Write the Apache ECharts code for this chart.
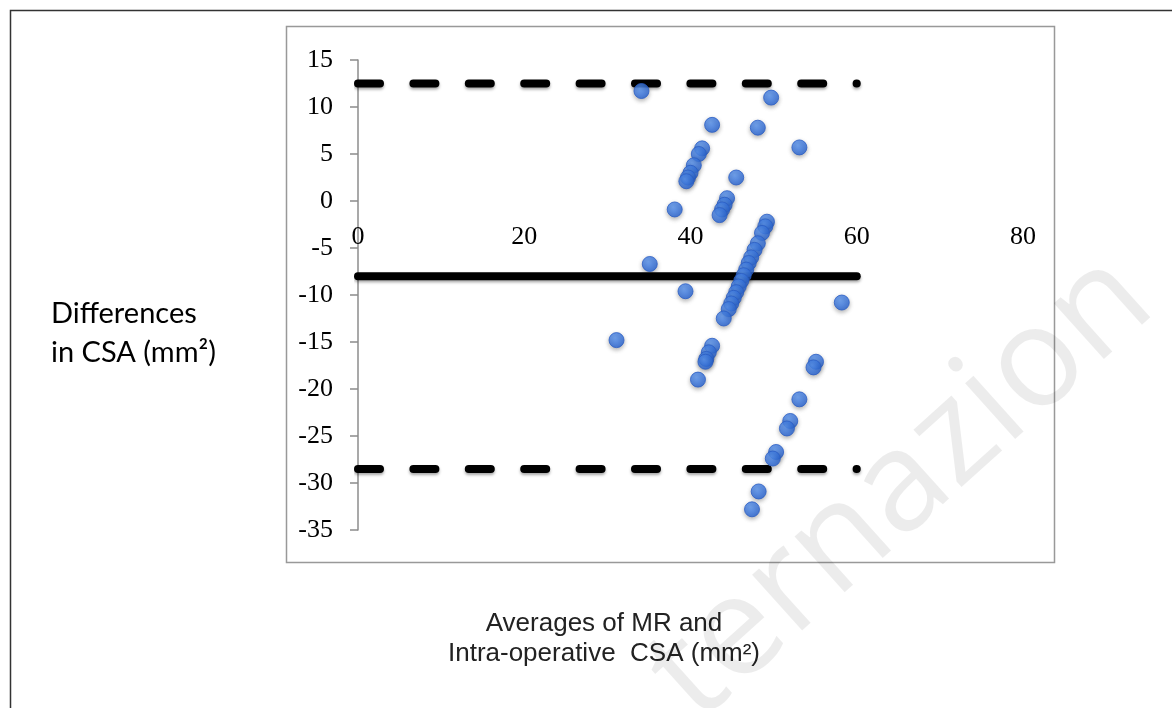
<!DOCTYPE html>
<html>
<head>
<meta charset="utf-8">
<script src="https://cdn.jsdelivr.net/npm/echarts@6/dist/echarts.min.js"></script>
<style>
html,body{margin:0;padding:0;background:#fff;}
#chart{width:1172px;height:708px;}
</style>
</head>
<body>
<div id="chart"></div>
<script>
// Averages (x) of MR and intra-operative CSA
const averages = [34.1,49.7,42.6,48.1,53.1,41.4,41.0,40.4,40.0,39.7,39.5,45.5,44.4,44.1,43.8,43.5,38.1,35.1,
  49.2,49.0,48.6,48.1,47.7,47.3,47.0,46.7,46.4,46.1,45.8,45.5,45.2,44.9,44.6,44.0,39.4,58.2,31.1,42.6,42.2,
  41.9,41.8,40.9,55.1,54.8,53.1,52.0,51.6,50.3,49.9,48.2,47.4];
// Differences (y) in CSA
const differences = [11.7,11.0,8.1,7.8,5.7,5.6,5.0,3.8,3.0,2.5,2.1,2.5,0.3,-0.4,-0.9,-1.5,-0.9,-6.7,
  -2.2,-2.7,-3.4,-4.5,-5.2,-6.0,-6.6,-7.3,-7.9,-8.5,-9.1,-9.7,-10.3,-10.9,-11.5,-12.5,-9.6,-10.8,-14.8,-15.4,-16.1,
  -16.8,-17.1,-19.0,-17.1,-17.7,-21.1,-23.4,-24.2,-26.7,-27.4,-30.9,-32.8];
const lineXRange = [0, 60];
const meanDiff = -8.0;
const upperLoA = 12.5;
const lowerLoA = -28.5;
const xTicks = {min: 0, max: 80, interval: 20};
const yTicks = {min: -35, max: 15, interval: 5};
const yTitle = ['Differences', 'in CSA (mm\u00B2)'];
const xTitle = ['Averages of MR and', 'Intra-operative  CSA (mm\u00B2)'];
const watermark = 'ternazion';

const points = averages.map((x, i) => [x, differences[i]]);
const hLine = v => lineXRange.map(x => [x, v]);

const chart = echarts.init(document.getElementById('chart'), null, {renderer: 'canvas'});
const lineShadow = {shadowBlur: 3, shadowColor: 'rgba(0,0,0,0.35)', shadowOffsetY: 2};

// x-axis labels sit next to the y = 0 level (Excel style)
const gridTop = 60, gridHeight = 470;
const zeroOffset = -gridHeight * (0 - yTicks.min) / (yTicks.max - yTicks.min);

chart.setOption({
  animation: false,
  backgroundColor: '#fff',
  grid: {left: 358, top: gridTop, width: 665, height: gridHeight, containLabel: false},
  xAxis: {
    type: 'value', min: xTicks.min, max: xTicks.max, interval: xTicks.interval,
    offset: zeroOffset,
    axisLine: {show: false, onZero: false},
    axisTick: {show: false},
    splitLine: {show: false},
    axisLabel: {color: '#000', fontFamily: 'Liberation Serif', fontSize: 26, margin: 23}
  },
  yAxis: {
    type: 'value', min: yTicks.min, max: yTicks.max, interval: yTicks.interval,
    axisLine: {show: true, onZero: false, lineStyle: {color: '#8c8c8c', width: 1.5}},
    axisTick: {show: true, length: 8, lineStyle: {color: '#8c8c8c', width: 1.5}},
    splitLine: {show: false},
    axisLabel: {color: '#000', fontFamily: 'Liberation Serif', fontSize: 26, margin: 25}
  },
  series: [
    {type: 'line', data: hLine(upperLoA), symbol: 'none', silent: true, z: 2,
     lineStyle: Object.assign({color: '#000', width: 8, type: [22, 33.4], cap: 'round'}, lineShadow)},
    {type: 'line', data: hLine(lowerLoA), symbol: 'none', silent: true, z: 2,
     lineStyle: Object.assign({color: '#000', width: 8, type: [22, 33.4], cap: 'round'}, lineShadow)},
    {type: 'line', data: hLine(meanDiff), symbol: 'none', silent: true, z: 2,
     lineStyle: Object.assign({color: '#000', width: 8, type: 'solid', cap: 'round'}, lineShadow)},
    {type: 'scatter', data: points, symbol: 'circle', symbolSize: 15, z: 5,
     itemStyle: {
       color: {type: 'radial', x: 0.4, y: 0.35, r: 0.7,
         colorStops: [{offset: 0, color: '#5b98f6'}, {offset: 1, color: '#2260d4'}]},
       borderColor: '#2a5ec4', borderWidth: 1,
       shadowBlur: 4, shadowColor: 'rgba(0,0,0,0.35)', shadowOffsetY: 2
     }}
  ],
  graphic: [
    {type: 'rect', left: 8, top: 8, silent: true, z: -10,
     shape: {x: 0, y: 0, width: 1180, height: 720},
     style: {fill: 'none', stroke: '#333', lineWidth: 1.5}},
    {type: 'rect', silent: true, z: -9,
     shape: {x: 286.5, y: 26.5, width: 768, height: 536},
     style: {fill: 'none', stroke: '#999', lineWidth: 1.5}},
    {type: 'text', x: 51, y: 314, silent: true,
     style: {text: yTitle[0], fill: '#000', font: '29px Lato', textAlign: 'left', textVerticalAlign: 'middle'}},
    {type: 'text', x: 51, y: 353, silent: true,
     style: {text: yTitle[1], fill: '#000', font: '29px Lato', textAlign: 'left', textVerticalAlign: 'middle'}},
    {type: 'text', x: 604, y: 624, silent: true,
     style: {text: xTitle[0], fill: '#222', font: '26px "Liberation Sans"', textAlign: 'center', textVerticalAlign: 'middle'}},
    {type: 'text', x: 604, y: 654, silent: true,
     style: {text: xTitle[1], fill: '#222', font: '26px "Liberation Sans"', textAlign: 'center', textVerticalAlign: 'middle'}},
    {type: 'text', x: 718, y: 747, rotation: 42 * Math.PI / 180, silent: true, z: 100,
     style: {text: watermark, fill: 'rgba(0,0,0,0.075)', font: '140px "Open Sans"', textAlign: 'left', textVerticalAlign: 'bottom'}}
  ]
});
</script>
</body>
</html>
